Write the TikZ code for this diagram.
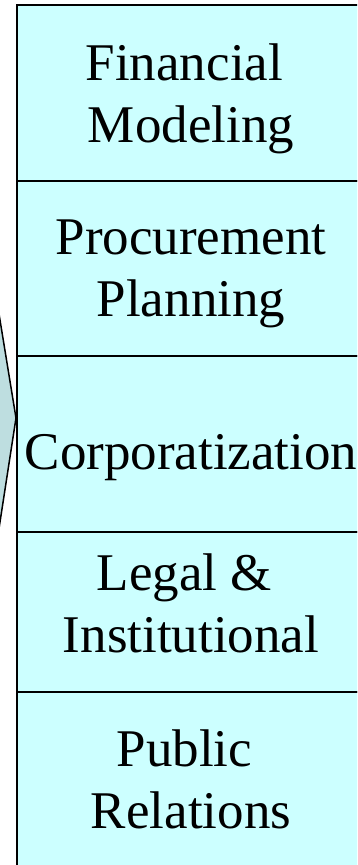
\documentclass[tikz,border=0pt]{standalone}
\usepackage{fontspec}
\setmainfont{Liberation Serif}
\definecolor{boxfill}{HTML}{CCFFFF}
\definecolor{arrowfill}{HTML}{BEDEE0}
\begin{document}
\begin{tikzpicture}[x=1pt,y=1pt,
  boxcell/.style={draw=black, line width=2pt, fill=boxfill, rectangle, inner sep=0pt, outer sep=0pt, minimum width=348pt},
  celltext/.style={align=center, inner sep=0pt, outer sep=0pt, font=\fontsize{53}{62}\selectfont, text=black},
  arrowshape/.style={draw=black, line width=1.5pt, fill=arrowfill}]
\useasboundingbox (0,0) rectangle (357,-865);
\clip (0,0) rectangle (357,-865);
% arrow behind the column
\draw[arrowshape] (-16,-222) -- (16,-418) -- (-16,-626);
% boxes
\node[boxcell, minimum height=176pt, anchor=north west] (b1) at (17,-5) {};
\node[boxcell, minimum height=175pt, anchor=north west] (b2) at (17,-181) {};
\node[boxcell, minimum height=176pt, anchor=north west] (b3) at (17,-356) {};
\node[boxcell, minimum height=160pt, anchor=north west] (b4) at (17,-532) {};
\node[boxcell, minimum height=180pt, anchor=north west] (b5) at (17,-692) {};
% texts
\node[celltext] (t1) at (191,-98.6) {Financial\hspace*{0.25em}\\Modeling};
\node[celltext] (t2) at (191,-274.2) {Procurement\\Planning};
\node[celltext] (t3) at (191,-457.6) {Corporatization};
\node[celltext] (t4) at (191,-603.4) {Legal \&\hspace*{0.25em}\\Institutional};
\node[celltext] (t5) at (191,-779.7) {Public\hspace*{0.25em}\\Relations};
\end{tikzpicture}
\end{document}
